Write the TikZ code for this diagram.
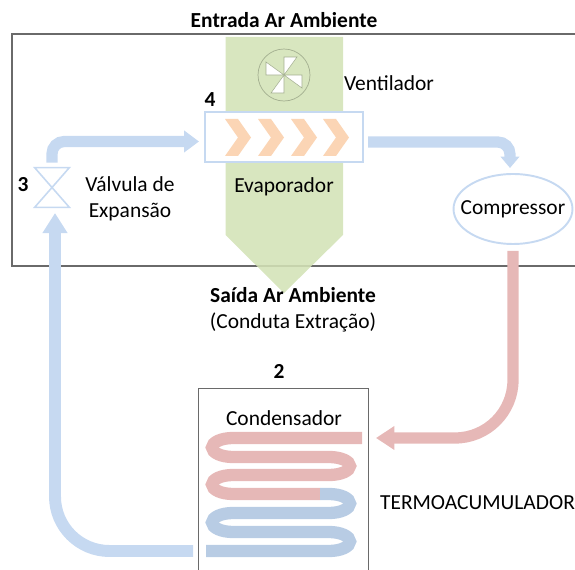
\documentclass[tikz,border=0pt]{standalone}
\usepackage{fontspec}
\setmainfont{Carlito}
\usepackage{tikz}
\usetikzlibrary{positioning,shapes.geometric,arrows.meta}
\definecolor{pipeblue}{HTML}{C6D9F1}
\definecolor{coilblue}{HTML}{B8CCE4}
\definecolor{pipered}{HTML}{E6B8B7}
\definecolor{airgreen}{HTML}{D3E2B6}
\definecolor{heatorange}{HTML}{FBD5B5}
\definecolor{framegray}{HTML}{6A6A6A}
\definecolor{fangray}{HTML}{A3AF90}
\tikzset{
  txt/.style={font=\fontsize{12.2}{14.7}\selectfont,inner sep=0pt,align=center},
  txtb/.style={txt,font=\fontsize{12.2}{14.7}\selectfont\bfseries},
  frameline/.style={draw=framegray,line width=0.65pt},
  part/.style={draw=pipeblue,line width=1.1pt,inner sep=0pt},
  pipe/.style={draw=pipeblue,line width=6.4pt},
  coil/.style={line width=7pt}
}
\begin{document}
\begin{tikzpicture}[x=0.02cm,y=-0.02cm,on grid]
  \useasboundingbox (0,0) rectangle (575,570);
  \draw[frameline] (575,34) -- (12,34) -- (12,266) -- (575,266);
  \fill[airgreen,fill opacity=0.88] (225.5,37) -- (343,37) -- (343,235) -- (284,293) -- (225.5,235) -- cycle;

  \node[part,fill=white,minimum width=3.16cm,minimum height=1cm] (evap) at (284,137) {};
  \foreach \x in {225,258,291,323}
    \fill[heatorange] (\x,119) -- (\x+13,119) -- (\x+26,137.5) -- (\x+13,156) -- (\x,156) -- (\x+13,137.5) -- cycle;
  \node[circle,draw=fangray,line width=0.4pt,minimum size=1.04cm,inner sep=0pt] (fan) [above=1.24cm of evap] {};
  \foreach \a in {0,90,180,270}
    \filldraw[fill=white,draw=fangray,line width=0.3pt,shift={(fan.center)},rotate=\a] (0,0) -- (0,-18) -- (13,-18) -- cycle;
  \node[txt] (fanlabel) at (389,83) {Ventilador};
  \node[txtb] (evapnum) at (210,100) {4};
  \node[txt] (evaplabel) [below=1cm of evap] {Evaporador};

  \node[minimum width=0.68cm,minimum height=0.78cm,inner sep=0pt] (valve) at (52,187.5) {};
  \draw[draw=pipeblue,line width=0.9pt] (valve.north west) -- (valve.north east) -- (valve.south west) -- (valve.south east) -- cycle;
  \node[txtb] (valvenum) at (23,185) {3};
  \node[txt] (valvelabel) at (130,199) {Válvula de\\Expansão};

  \node[part,ellipse,minimum width=2.38cm,minimum height=1.4cm] (comp) at (513,209) {};
  \node[txt] (complabel) [above=0cm of comp] {Compressor};

  \node[minimum width=3.38cm,minimum height=3.62cm,inner sep=0pt] (tank) at (283.5,479.5) {};
  \draw[frameline] (tank.south west) |- (tank.north east) -- (tank.south east);
  \node[txtb] (tanknum) at (279,371) {2};
  \node[txt] (tanklabel) at (284,418) {Condensador};
  \node[txt] (tankname) at (477.5,503) {TERMOACUMULADOR};

  \node[txtb] (intake) at (284,20) {Entrada Ar Ambiente};
  \node[txtb] (outlet) at (293,295) {Saída Ar Ambiente};
  \node[txt] (duct) [below=0.54cm of outlet] {(Conduta Extração)};

  \coordinate (evapin) at (199,141.5);
  \coordinate (evapout) at (368,142);
  \coordinate (compin) at (510,168);
  \coordinate (coilin) at (376,438);
  \coordinate (coilout) at (193,551);
  \coordinate (valvein) at (55,213);

  \draw[pipe,rounded corners=7pt,shorten <=2.8pt,-{Triangle[length=8.5pt,width=12pt]}] (valve.north) |- (evapin);
  \draw[pipe,rounded corners=7pt,-{Triangle[length=6.5pt,width=10.5pt]}] (evapout) -| (compin);
  \draw[draw=pipered,line width=6.4pt,rounded corners=33pt,shorten <=3.4pt,-{Triangle[length=10.5pt,width=13pt]}] (comp.south) |- (coilin);
  \draw[pipe,line width=6.8pt,rounded corners=31pt,-{Triangle[length=11.5pt,width=13.6pt]}] (coilout) -| (valvein);

  \draw[coil,draw=pipered] (362,438) -- (233,438) arc[start angle=270,end angle=90,x radius=21,y radius=9.5]
    -- (329,457) arc[start angle=-90,end angle=90,x radius=21,y radius=9]
    -- (233,475) arc[start angle=270,end angle=90,x radius=21,y radius=9.5] -- (320,494);
  \draw[coil,draw=coilblue] (320,494) -- (329,494) arc[start angle=-90,end angle=90,x radius=21,y radius=9.5]
    -- (233,513) arc[start angle=270,end angle=90,x radius=21,y radius=9.5]
    -- (329,532) arc[start angle=-90,end angle=90,x radius=21,y radius=9.5] -- (206,551);
\end{tikzpicture}
\end{document}
